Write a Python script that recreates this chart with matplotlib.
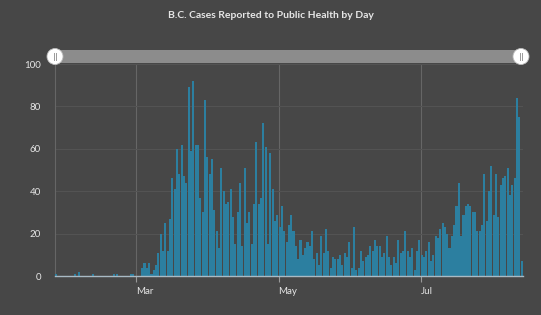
import matplotlib
matplotlib.use('Agg')
import matplotlib.pyplot as plt
import matplotlib.dates as mdates
from matplotlib.patches import Rectangle, Circle
import pandas as pd

# Daily cases reported (starts 2020-01-26)
start_date = '2020-01-26'
cases_jan_feb = [1, 0, 0, 0, 0, 0, 0, 0, 1, 0, 2, 0, 0, 0, 0, 0, 1, 0, 0, 0, 0, 0, 0, 0, 0,
                 1, 1, 0, 0, 0, 0, 0, 1, 1, 0]
cases_mar = [0, 0, 4, 6, 4, 6, 1, 3, 5, 11, 20, 12, 25, 12, 27, 46, 41, 60, 48, 62, 47, 44,
             89, 59, 92, 62, 62, 37, 30, 83, 56]
cases_apr = [48, 55, 31, 21, 13, 51, 40, 34, 35, 41, 28, 15, 30, 44, 14, 51, 25, 30, 15, 34,
             63, 34, 37, 72, 61, 15, 58, 41, 26, 29]
cases_may = [23, 33, 21, 16, 24, 29, 21, 14, 8, 17, 10, 13, 16, 14, 21, 8, 11, 5, 19, 11, 22,
             12, 4, 9, 8, 8, 10, 5, 11, 9, 16]
cases_jun = [4, 23, 3, 4, 12, 7, 9, 10, 14, 12, 17, 14, 14, 9, 11, 19, 9, 5, 9, 6, 17, 11, 12,
             21, 12, 9, 13, 3, 12, 17]
cases_jul = [10, 9, 12, 16, 7, 10, 19, 18, 22, 25, 23, 20, 13, 19, 24, 33, 44, 19, 29, 33, 34,
             33, 30, 30, 21, 21, 24, 48, 26, 40, 52]
cases_aug = [29, 48, 28, 43, 46, 47, 51, 38, 43, 46, 84, 75, 7]

cases = cases_jan_feb + cases_mar + cases_apr + cases_may + cases_jun + cases_jul + cases_aug
dates = pd.date_range(start_date, periods=len(cases), freq='D')

title = 'B.C. Cases Reported to Public Health by Day'
y_ticks = [0, 20, 40, 60, 80, 100]

bg = '#474747'
txt = '#e6e6e6'
bar_color = '#2c7fa0'

plt.rcParams['font.family'] = ['Lato', 'DejaVu Sans']

fig = plt.figure(figsize=(5.41, 3.15), dpi=100)
fig.patch.set_facecolor(bg)

# main plot area
ax = fig.add_axes([55 / 541, 39 / 315, 468 / 541, 212 / 315])
ax.set_facecolor(bg)
ax.bar(dates, cases, width=0.88, align='edge', color=bar_color, zorder=3)

ax.set_xlim(dates[0], dates[-1] + pd.Timedelta(days=1))
ax.set_ylim(0, 100)
ax.set_yticks(y_ticks)
ax.yaxis.grid(True, color='#535353', linewidth=0.8, zorder=0)

ax.xaxis.set_major_locator(mdates.MonthLocator(bymonth=[3, 5, 7]))
ax.xaxis.set_major_formatter(mdates.DateFormatter('%b'))
ax.xaxis.grid(True, color='#666666', linewidth=0.8, zorder=0)

ax.tick_params(axis='y', length=0, pad=10, labelsize=7, labelcolor=txt)
ax.tick_params(axis='x', length=4, width=0.8, color='#9a9a9a', pad=4,
               labelsize=7, labelcolor=txt)
for lbl in ax.get_xticklabels():
    lbl.set_horizontalalignment('left')

for side in ['top', 'right']:
    ax.spines[side].set_visible(False)
ax.spines['left'].set_color('#666666')
ax.spines['left'].set_linewidth(0.8)
ax.spines['bottom'].set_color('#a9bac4')
ax.spines['bottom'].set_linewidth(1.0)
ax.spines['bottom'].set_zorder(4)

# title
fig.text(0.5, 1 - 15 / 315, title, ha='center', va='center', color=txt,
         fontsize=7.5, fontweight='bold')

# range slider on top, drawn in pixel coordinates
over = fig.add_axes([0, 0, 1, 1], zorder=5)
over.set_xlim(0, 541)
over.set_ylim(315, 0)
over.axis('off')
over.add_patch(Rectangle((55, 50), 466, 13, facecolor='#8c8c8c', edgecolor='none'))
for hx in [55, 521]:
    over.add_patch(Circle((hx, 56.5), 8, facecolor='white', edgecolor='#bbbbbb', linewidth=0.6))
    over.plot([hx - 1.2, hx - 1.2], [53, 60], color='#9a9a9a', linewidth=0.7)
    over.plot([hx + 1.2, hx + 1.2], [53, 60], color='#9a9a9a', linewidth=0.7)

fig.savefig('out.png', dpi=100, facecolor=bg)
